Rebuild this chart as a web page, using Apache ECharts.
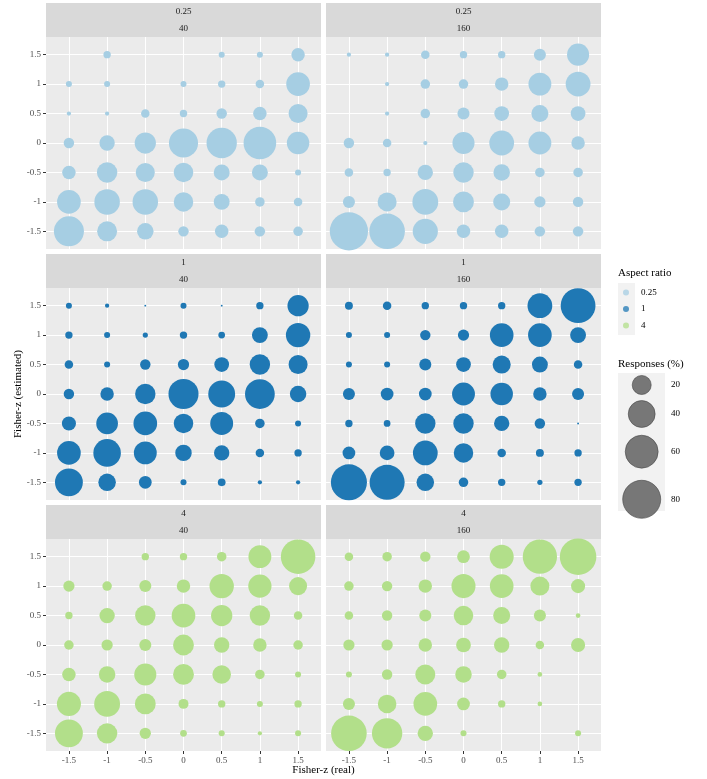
<!DOCTYPE html>
<html>
<head>
<meta charset="utf-8">
<title>Fisher-z bubbles</title>
<script src="https://cdn.jsdelivr.net/npm/echarts@6/dist/echarts.min.js"></script>
<style>
    html, body { margin: 0; padding: 0; background: #fff; }
    #main { width: 707px; height: 779px; }
</style>
</head>
<body>
<div id="main"></div>
<script>
    // real values along x, estimated values along y (rows go from 1.5 down to -1.5)
    var realZ = [-1.5, -1, -0.5, 0, 0.5, 1, 1.5];
    var estZ = [1.5, 1, 0.5, 0, -0.5, -1, -1.5];
    var aspectRatios = ['0.25', '1', '4'];
    var sampleSizes = ['40', '160'];
    var arColors = ['#a6cee3', '#1f78b4', '#b2df8a'];
    var sizeBreaks = [20, 40, 60, 80];

    // responses (%), one row per estimated value, one column per real value
    var ar025_n40 = [
        [0, 3, 0, 0, 2, 2, 10],
        [2, 2, 0, 2, 3, 4, 31],
        [1, 1, 4, 3, 6, 10, 20],
        [6, 13, 25, 47, 51, 59, 28],
        [10, 23, 20, 21, 14, 14, 2],
        [31, 36, 36, 21, 14, 5, 4],
        [50, 22, 15, 6, 10, 6, 5]
    ];
    var ar025_n160 = [
        [1, 1, 4, 3, 3, 8, 27],
        [0, 1, 5, 5, 10, 29, 34],
        [0, 1, 5, 8, 12, 16, 12],
        [6, 4, 1, 27, 34, 29, 10],
        [4, 3, 13, 23, 15, 5, 5],
        [8, 20, 37, 24, 16, 7, 6],
        [81, 70, 35, 10, 10, 6, 6]
    ];
    var ar1_n40 = [
        [2, 1, 0.2, 2, 0.2, 3, 25],
        [3, 2, 1.5, 3, 2.5, 14, 33],
        [4, 2, 6, 7, 12, 23, 20],
        [6, 10, 23, 50, 40, 49, 15],
        [11, 26, 31, 21, 29, 5, 2],
        [31, 42, 29, 15, 13, 4, 3],
        [43, 17, 9, 2, 3.3, 1, 1]
    ];
    var ar1_n160 = [
        [3.5, 4, 3, 3, 3, 34, 67],
        [2, 2, 6, 7, 31, 31, 14],
        [2, 2, 8, 12, 18, 14, 4],
        [8, 9, 9, 29, 28, 10, 8],
        [3, 2.5, 23, 23, 13, 6, 0.2],
        [9, 12, 34, 21, 4, 3.5, 3],
        [72, 68, 17, 5, 3, 1.5, 3]
    ];
    var ar4_n40 = [
        [0, 0, 3, 3, 5, 29, 66],
        [7, 5, 8, 10, 33, 30, 18],
        [3, 13, 23, 31, 25, 23, 4],
        [5, 7, 8, 24, 13, 10, 5],
        [10, 15, 27, 24, 19, 5, 2],
        [32, 37, 24, 5.5, 3, 2, 3],
        [43, 23, 7, 2.5, 2, 1, 2]
    ];
    var ar4_n160 = [
        [4, 5, 6, 9, 32, 65, 74],
        [5, 6, 10, 32, 31, 20, 11],
        [4, 6, 8, 21, 16, 8, 1.2],
        [7, 7, 10, 12, 13, 4, 11],
        [2, 6, 22, 15, 5, 1.2, 0],
        [8, 19, 31, 9, 3, 1.2, 0],
        [70, 51, 13, 2, 0, 0, 2]
    ];

    var panels = [
        [ar025_n40, ar025_n160],
        [ar1_n40, ar1_n160],
        [ar4_n40, ar4_n160]
    ];

    var FONT = 'Liberation Serif';
    var gridLeft = [46, 326];
    var gridTop = [37, 288, 539];
    var gridW = 275, gridH = 212;

    function bubble(v) {
        return 4.25 * Math.sqrt(v);
    }

    var grids = [], xAxes = [], yAxes = [], series = [], graphics = [];

    for (var r = 0; r < 3; r++) {
        for (var c = 0; c < 2; c++) {
            var idx = grids.length;
            grids.push({
                left: gridLeft[c], top: gridTop[r], width: gridW, height: gridH,
                show: true, backgroundColor: '#ebebeb', borderWidth: 0
            });
            xAxes.push({
                type: 'value', gridIndex: idx, min: -1.8, max: 1.8, position: 'bottom',
                axisLine: {show: false, onZero: false},
                axisTick: {show: r === 2, customValues: realZ, length: 3, lineStyle: {color: '#333'}},
                axisLabel: {
                    show: r === 2, customValues: realZ, margin: 5,
                    color: '#4d4d4d', fontSize: 9, fontFamily: FONT
                },
                splitLine: {show: true, lineStyle: {color: '#fff', width: 1.1}}
            });
            yAxes.push({
                type: 'value', gridIndex: idx, min: -1.8, max: 1.8, position: 'left',
                axisLine: {show: false, onZero: false},
                axisTick: {show: c === 0, customValues: estZ, length: 3, lineStyle: {color: '#333'}},
                axisLabel: {
                    show: c === 0, customValues: estZ, margin: 5,
                    color: '#4d4d4d', fontSize: 9, fontFamily: FONT
                },
                splitLine: {show: true, lineStyle: {color: '#fff', width: 1.1}}
            });

            var m = panels[r][c];
            var pts = [];
            for (var i = 0; i < estZ.length; i++) {
                for (var j = 0; j < realZ.length; j++) {
                    if (m[i][j] > 0) pts.push([realZ[j], estZ[i], m[i][j]]);
                }
            }
            series.push({
                type: 'scatter', name: aspectRatios[r],
                xAxisIndex: idx, yAxisIndex: idx,
                data: pts,
                symbolSize: function (val) { return bubble(val[2]); },
                itemStyle: {color: arColors[r], opacity: 1},
                emphasis: {disabled: true},
                silent: true
            });

            // strips
            graphics.push({
                type: 'rect',
                shape: {x: gridLeft[c], y: gridTop[r] - 34, width: gridW, height: 34},
                style: {fill: '#d9d9d9'}
            });
            graphics.push({
                type: 'text', x: gridLeft[c] + gridW / 2, y: gridTop[r] - 25,
                style: {text: aspectRatios[r], font: '9px ' + FONT, fill: '#1a1a1a', align: 'center', verticalAlign: 'middle'}
            });
            graphics.push({
                type: 'text', x: gridLeft[c] + gridW / 2, y: gridTop[r] - 8,
                style: {text: sampleSizes[c], font: '9px ' + FONT, fill: '#1a1a1a', align: 'center', verticalAlign: 'middle'}
            });
        }
    }

    // axis titles
    graphics.push({
        type: 'text', x: 323.5, y: 770,
        style: {text: 'Fisher-z (real)', font: '11px ' + FONT, fill: '#000', align: 'center', verticalAlign: 'middle'}
    });
    graphics.push({
        type: 'text', x: 18, y: 394, rotation: Math.PI / 2,
        style: {text: 'Fisher-z (estimated)', font: '11px ' + FONT, fill: '#000', align: 'center', verticalAlign: 'middle'}
    });

    // colour legend
    graphics.push({
        type: 'text', x: 618, y: 273,
        style: {text: 'Aspect ratio', font: '11px ' + FONT, fill: '#000', verticalAlign: 'middle'}
    });
    graphics.push({
        type: 'rect', z: -1,
        shape: {x: 618, y: 283, width: 17, height: 52},
        style: {fill: '#f2f2f2'}
    });

    // size legend
    var sizeY = [385, 414, 451.7, 499.3];
    graphics.push({
        type: 'text', x: 618, y: 364,
        style: {text: 'Responses (%)', font: '11px ' + FONT, fill: '#000', verticalAlign: 'middle'}
    });
    graphics.push({
        type: 'rect',
        shape: {x: 618, y: 373, width: 47, height: 138},
        style: {fill: '#f2f2f2'}
    });
    sizeBreaks.forEach(function (b, k) {
        graphics.push({
            type: 'circle',
            shape: {cx: 641.7, cy: sizeY[k], r: bubble(b) / 2},
            style: {fill: '#777', stroke: '#444', lineWidth: 0.6}
        });
        graphics.push({
            type: 'text', x: 671, y: sizeY[k],
            style: {text: String(b), font: '9px ' + FONT, fill: '#000', verticalAlign: 'middle'}
        });
    });

    var myChart = echarts.init(document.getElementById('main'));
    var option = {
        animation: false,
        backgroundColor: '#fff',
        grid: grids,
        xAxis: xAxes,
        yAxis: yAxes,
        legend: {
            data: aspectRatios,
            orient: 'vertical',
            left: 623, top: 288,
            icon: 'circle',
            itemWidth: 6, itemHeight: 6, itemGap: 7.5,
            itemStyle: {opacity: 0.75},
            textStyle: {fontFamily: FONT, fontSize: 9, color: '#000', padding: [0, 0, 0, 7]},
            padding: 0
        },
        series: series,
        graphic: graphics
    };
    myChart.setOption(option);
</script>
</body>
</html>
